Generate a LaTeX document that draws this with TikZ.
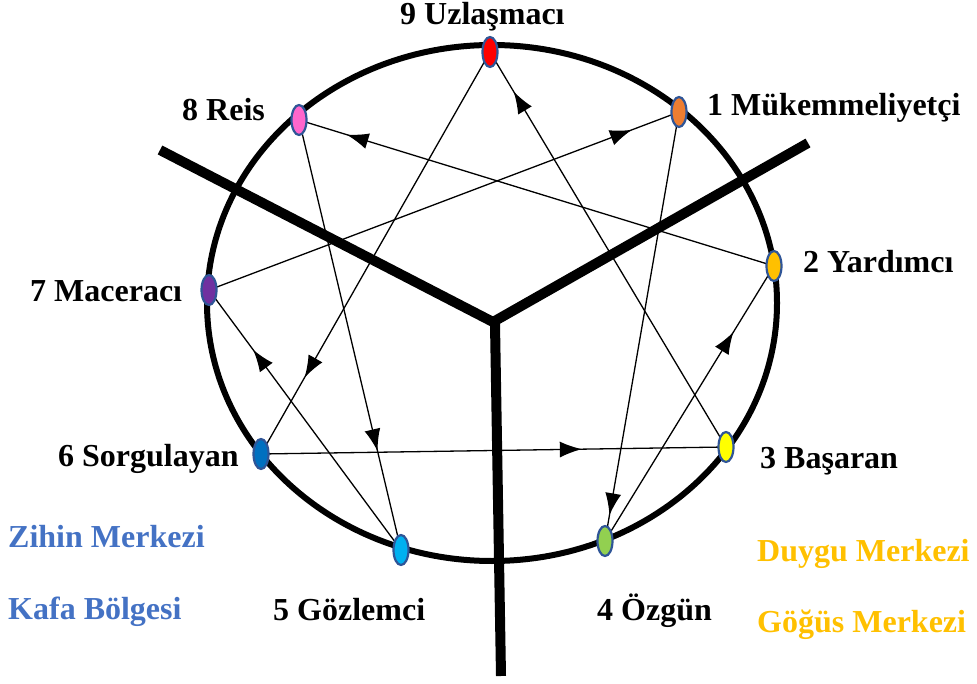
\documentclass[tikz,border=0pt]{standalone}
\usepackage{fontspec}
\setmainfont{Liberation Serif}
\usetikzlibrary{arrows.meta,decorations.markings,shapes.geometric}
\definecolor{c9}{HTML}{FF0000}
\definecolor{c1}{HTML}{ED7D31}
\definecolor{c2}{HTML}{FFC000}
\definecolor{c3}{HTML}{FFFF00}
\definecolor{c4}{HTML}{92D050}
\definecolor{c5}{HTML}{00B0F0}
\definecolor{c6}{HTML}{0070C0}
\definecolor{c7}{HTML}{7030A0}
\definecolor{c8}{HTML}{FF66CC}
\definecolor{dotborder}{HTML}{2F5597}
\definecolor{headblue}{HTML}{4472C4}
\definecolor{heartgold}{HTML}{FFC000}
\tikzset{
  dot/.style={ellipse, draw=dotborder, line width=2.2pt, fill=#1, minimum width=15pt, minimum height=30pt, inner sep=0pt},
  lbl/.style={anchor=base west, inner sep=0pt, font=\fontsize{32}{36}\selectfont\bfseries},
  link/.style={line width=1.3pt},
  tipshape/.tip={Latex[length=22pt,width=16pt]},
  arr/.style={decoration={markings, mark=at position #1 with {\arrow{tipshape}}}, postaction={decorate}},
  yline/.style={line width=10pt}
}
\begin{document}
\begin{tikzpicture}[x=1pt,y=-1pt]
\useasboundingbox (0,0) rectangle (977,684);
% Y separator
\coordinate (yl) at (160,150);
\coordinate (yr) at (808,143);
\coordinate (yc) at (493,322);
\coordinate (ys) at (495,324);
\coordinate (yb) at (501,676);
\draw[yline] (yl) -- (yc) -- (yr);
\draw[yline] (ys) -- (yb);
% circle
\draw[line width=6pt] (492,303) ellipse [x radius=285, y radius=258];
% dot positions
\coordinate (p9) at (490,52);
\coordinate (p1) at (679,112);
\coordinate (p2) at (774,266);
\coordinate (p3) at (726,447);
\coordinate (p4) at (605,541);
\coordinate (p5) at (401,550);
\coordinate (p6) at (261,454);
\coordinate (p7) at (209,290);
\coordinate (p8) at (299,120);
% connectors
\draw[link, arr=0.69] (p6) -- (p3);
\draw[link, arr=0.90] (p3) -- (p9);
\draw[link, arr=0.81] (p9) -- (p6);
\draw[link, arr=0.94] (p1) -- (p4);
\draw[link, arr=0.76] (p4) -- (p2);
\draw[link, arr=0.90] (p2) -- (p8);
\draw[link, arr=0.77] (p8) -- (p5);
\draw[link, arr=0.77] (p5) -- (p7);
\draw[link, arr=0.90] (p7) -- (p1);
% dots
\node[dot=c9] (d9) at (p9) {};
\node[dot=c1] (d1) at (p1) {};
\node[dot=c2] (d2) at (p2) {};
\node[dot=c3] (d3) at (p3) {};
\node[dot=c4] (d4) at (p4) {};
\node[dot=c5] (d5) at (p5) {};
\node[dot=c6] (d6) at (p6) {};
\node[dot=c7] (d7) at (p7) {};
\node[dot=c8] (d8) at (p8) {};
% labels
\node[lbl] (l9) at (400,25) {9 Uzlaşmacı};
\node[lbl] (l8) at (182,121) {8 Reis};
\node[lbl] (l1) at (707,116) {1 Mükemmeliyetçi};
\node[lbl] (l2) at (803,273) {2 Yardımcı};
\node[lbl] (l7) at (30,302) {7 Maceracı};
\node[lbl] (l6) at (58,466) {6 Sorgulayan};
\node[lbl] (l3) at (760,468) {3 Başaran};
\node[lbl] (l5) at (273,620) {5 Gözlemci};
\node[lbl] (l4) at (597,620) {4 Özgün};
\node[lbl, text=headblue] (z1) at (8,547) {Zihin Merkezi};
\node[lbl, text=headblue] (z2) at (8,619) {Kafa Bölgesi};
\node[lbl, text=heartgold] (g1) at (757,561) {Duygu Merkezi};
\node[lbl, text=heartgold] (g2) at (757,632) {Göğüs Merkezi};
\end{tikzpicture}
\end{document}
